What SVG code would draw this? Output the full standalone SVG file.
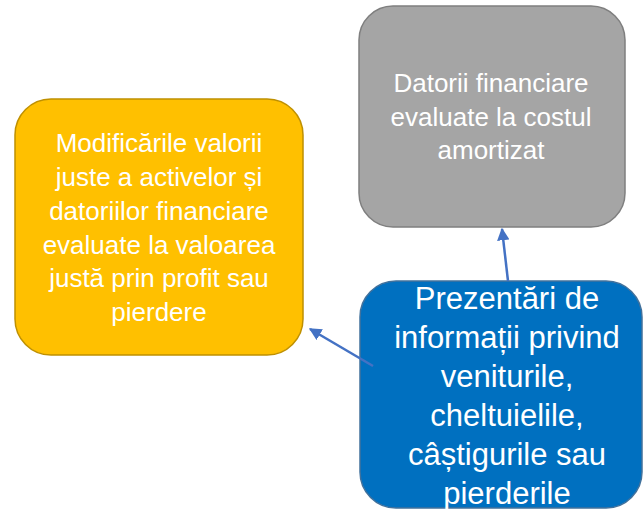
<svg xmlns="http://www.w3.org/2000/svg" width="643" height="511" viewBox="0 0 643 511">
<defs>
<style>
.t{font-family:"Liberation Sans",Arial,sans-serif;fill:#fff;text-anchor:middle}
.s25{font-size:26px}
.s30{font-size:31px}
.c{stroke:#4472C4;stroke-width:2.5;fill:none}
</style>
<marker id="ah" viewBox="0 0 10 10" refX="9" refY="5" markerWidth="5" markerHeight="5" markerUnits="strokeWidth" orient="auto">
<path d="M0,0 L10,5 L0,10 z" fill="#4472C4"/>
</marker>
</defs>
<rect width="643" height="511" fill="#fff"/>
<g id="orange">
<rect x="15" y="99" width="288" height="256" rx="36" fill="#FFC000" stroke="#BF9000" stroke-width="1.5"/>
<text class="t s25"><tspan x="159" y="152">Modificările valorii</tspan><tspan x="159" y="186">juste a activelor și</tspan><tspan x="159" y="220">datoriilor financiare</tspan><tspan x="159" y="254">evaluate la valoarea</tspan><tspan x="159" y="287">justă prin profit sau</tspan><tspan x="159" y="321">pierdere</tspan></text>
</g>
<g id="gray">
<rect x="359" y="6" width="266" height="221" rx="34" fill="#A5A5A5" stroke="#7F7F7F" stroke-width="1.5"/>
<text class="t s25"><tspan x="491" y="92">Datorii financiare</tspan><tspan x="491" y="126">evaluate la costul</tspan><tspan x="491" y="159">amortizat</tspan></text>
</g>
<g id="blue">
<rect x="360" y="281" width="282" height="227" rx="36" fill="#0070C0" stroke="#41719C" stroke-width="1.5"/>
<text class="t s30"><tspan x="507" y="309">Prezentări de</tspan><tspan x="507" y="348">informații privind</tspan><tspan x="507" y="387">veniturile,</tspan><tspan x="507" y="426">cheltuielile,</tspan><tspan x="507" y="465">câștigurile sau</tspan><tspan x="507" y="504">pierderile</tspan></text>
</g>
<g id="connectors">
<line class="c" x1="508" y1="281" x2="502" y2="229" marker-end="url(#ah)"/>
<line class="c" x1="373" y1="366" x2="310" y2="329" marker-end="url(#ah)"/>
</g>
</svg>
